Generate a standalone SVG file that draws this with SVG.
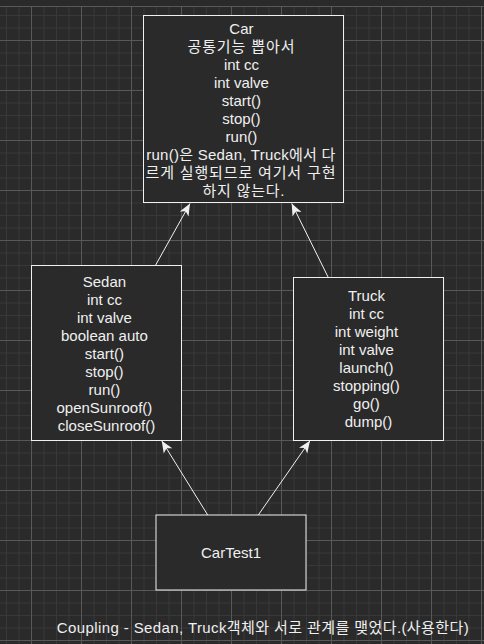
<svg xmlns="http://www.w3.org/2000/svg" width="484" height="644" viewBox="0 0 484 644">
<style>
.box{fill:#2a2a2a;stroke:#f0f0f0;stroke-width:1}
.t{font-family:"Liberation Sans","Noto Sans CJK KR",Arial,sans-serif;font-size:15px;fill:#f0f0f0;text-anchor:middle}
.edge{fill:none;stroke:#f0f0f0;stroke-width:1}
</style>
<defs>
<pattern id="grid" patternUnits="userSpaceOnUse" x="-19" y="-10" width="50" height="50">
<rect x="0" y="0" width="50" height="50" fill="#2a2a2a"/>
<g fill="#383838">
<rect x="12.5" y="0" width="1" height="50"/>
<rect x="25" y="0" width="1" height="50"/>
<rect x="37.5" y="0" width="1" height="50"/>
<rect x="0" y="12.5" width="50" height="1"/>
<rect x="0" y="25" width="50" height="1"/>
<rect x="0" y="37.5" width="50" height="1"/>
</g>
<g fill="#585858">
<rect x="0" y="0" width="1" height="50"/>
<rect x="0" y="0" width="50" height="1"/>
</g>
</pattern>
<marker id="arr" markerUnits="userSpaceOnUse" viewBox="-13 -7 14 14" refX="0" refY="0" markerWidth="14" markerHeight="14" orient="auto">
<path d="M0,0 L-12,-5 L-9,0 L-12,5 Z" fill="#f0f0f0"/>
</marker>
</defs>
<rect width="484" height="644" fill="#2a2a2a"/>
<rect x="0" y="6" width="484" height="638" fill="url(#grid)"/>
<rect x="0" y="6" width="484" height="1" fill="#585858"/>

<g id="connectors">
<line class="edge" x1="155.7" y1="265" x2="190" y2="203.5" marker-end="url(#arr)"/>
<line class="edge" x1="328.3" y1="277.5" x2="291.7" y2="203.5" marker-end="url(#arr)"/>
<line class="edge" x1="207.7" y1="515" x2="161.7" y2="440.7" marker-end="url(#arr)"/>
<line class="edge" x1="258.3" y1="515" x2="310" y2="440.7" marker-end="url(#arr)"/>
</g>

<g id="car">
<rect class="box" x="143.5" y="15.5" width="200" height="187"/>
<text class="t">
<tspan x="243.5" y="33.5">Car</tspan>
<tspan x="243.5" y="51.5" textLength="107" lengthAdjust="spacing">공통기능 뽑아서</tspan>
<tspan x="243.5" y="69.5">int cc</tspan>
<tspan x="243.5" y="87.5">int valve</tspan>
<tspan x="243.5" y="105.5">start()</tspan>
<tspan x="243.5" y="123.5">stop()</tspan>
<tspan x="243.5" y="141.5">run()</tspan>
<tspan x="243" y="159.5" textLength="189" lengthAdjust="spacing">run()은 Sedan, Truck에서 다</tspan>
<tspan x="243" y="177.5" textLength="190" lengthAdjust="spacing">르게 실행되므로 여기서 구현</tspan>
<tspan x="243.5" y="195.5" textLength="82" lengthAdjust="spacing">하지 않는다.</tspan>
</text>
</g>

<g id="sedan">
<rect class="box" x="31.5" y="265.5" width="150" height="175"/>
<text class="t">
<tspan x="106.5" y="286.5">Sedan</tspan>
<tspan x="106.5" y="304.5">int cc</tspan>
<tspan x="106.5" y="322.5">int valve</tspan>
<tspan x="106.5" y="340.5">boolean auto</tspan>
<tspan x="106.5" y="358.5">start()</tspan>
<tspan x="106.5" y="376.5">stop()</tspan>
<tspan x="106.5" y="394.5">run()</tspan>
<tspan x="106.5" y="412.5">openSunroof()</tspan>
<tspan x="106.5" y="430.5">closeSunroof()</tspan>
</text>
</g>

<g id="truck">
<rect class="box" x="293.5" y="277.5" width="150" height="163"/>
<text class="t">
<tspan x="368.5" y="301">Truck</tspan>
<tspan x="368.5" y="319">int cc</tspan>
<tspan x="368.5" y="337">int weight</tspan>
<tspan x="368.5" y="355">int valve</tspan>
<tspan x="368.5" y="373">launch()</tspan>
<tspan x="368.5" y="391">stopping()</tspan>
<tspan x="368.5" y="409">go()</tspan>
<tspan x="368.5" y="427">dump()</tspan>
</text>
</g>

<g id="cartest1">
<rect class="box" x="156" y="515" width="150" height="75"/>
<text class="t" x="231" y="558">CarTest1</text>
</g>

<g id="caption">
<text class="t" x="56.7" y="633" style="text-anchor:start" textLength="412" lengthAdjust="spacing">Coupling - Sedan, Truck객체와 서로 관계를 맺었다.(사용한다)</text>
</g>
</svg>
